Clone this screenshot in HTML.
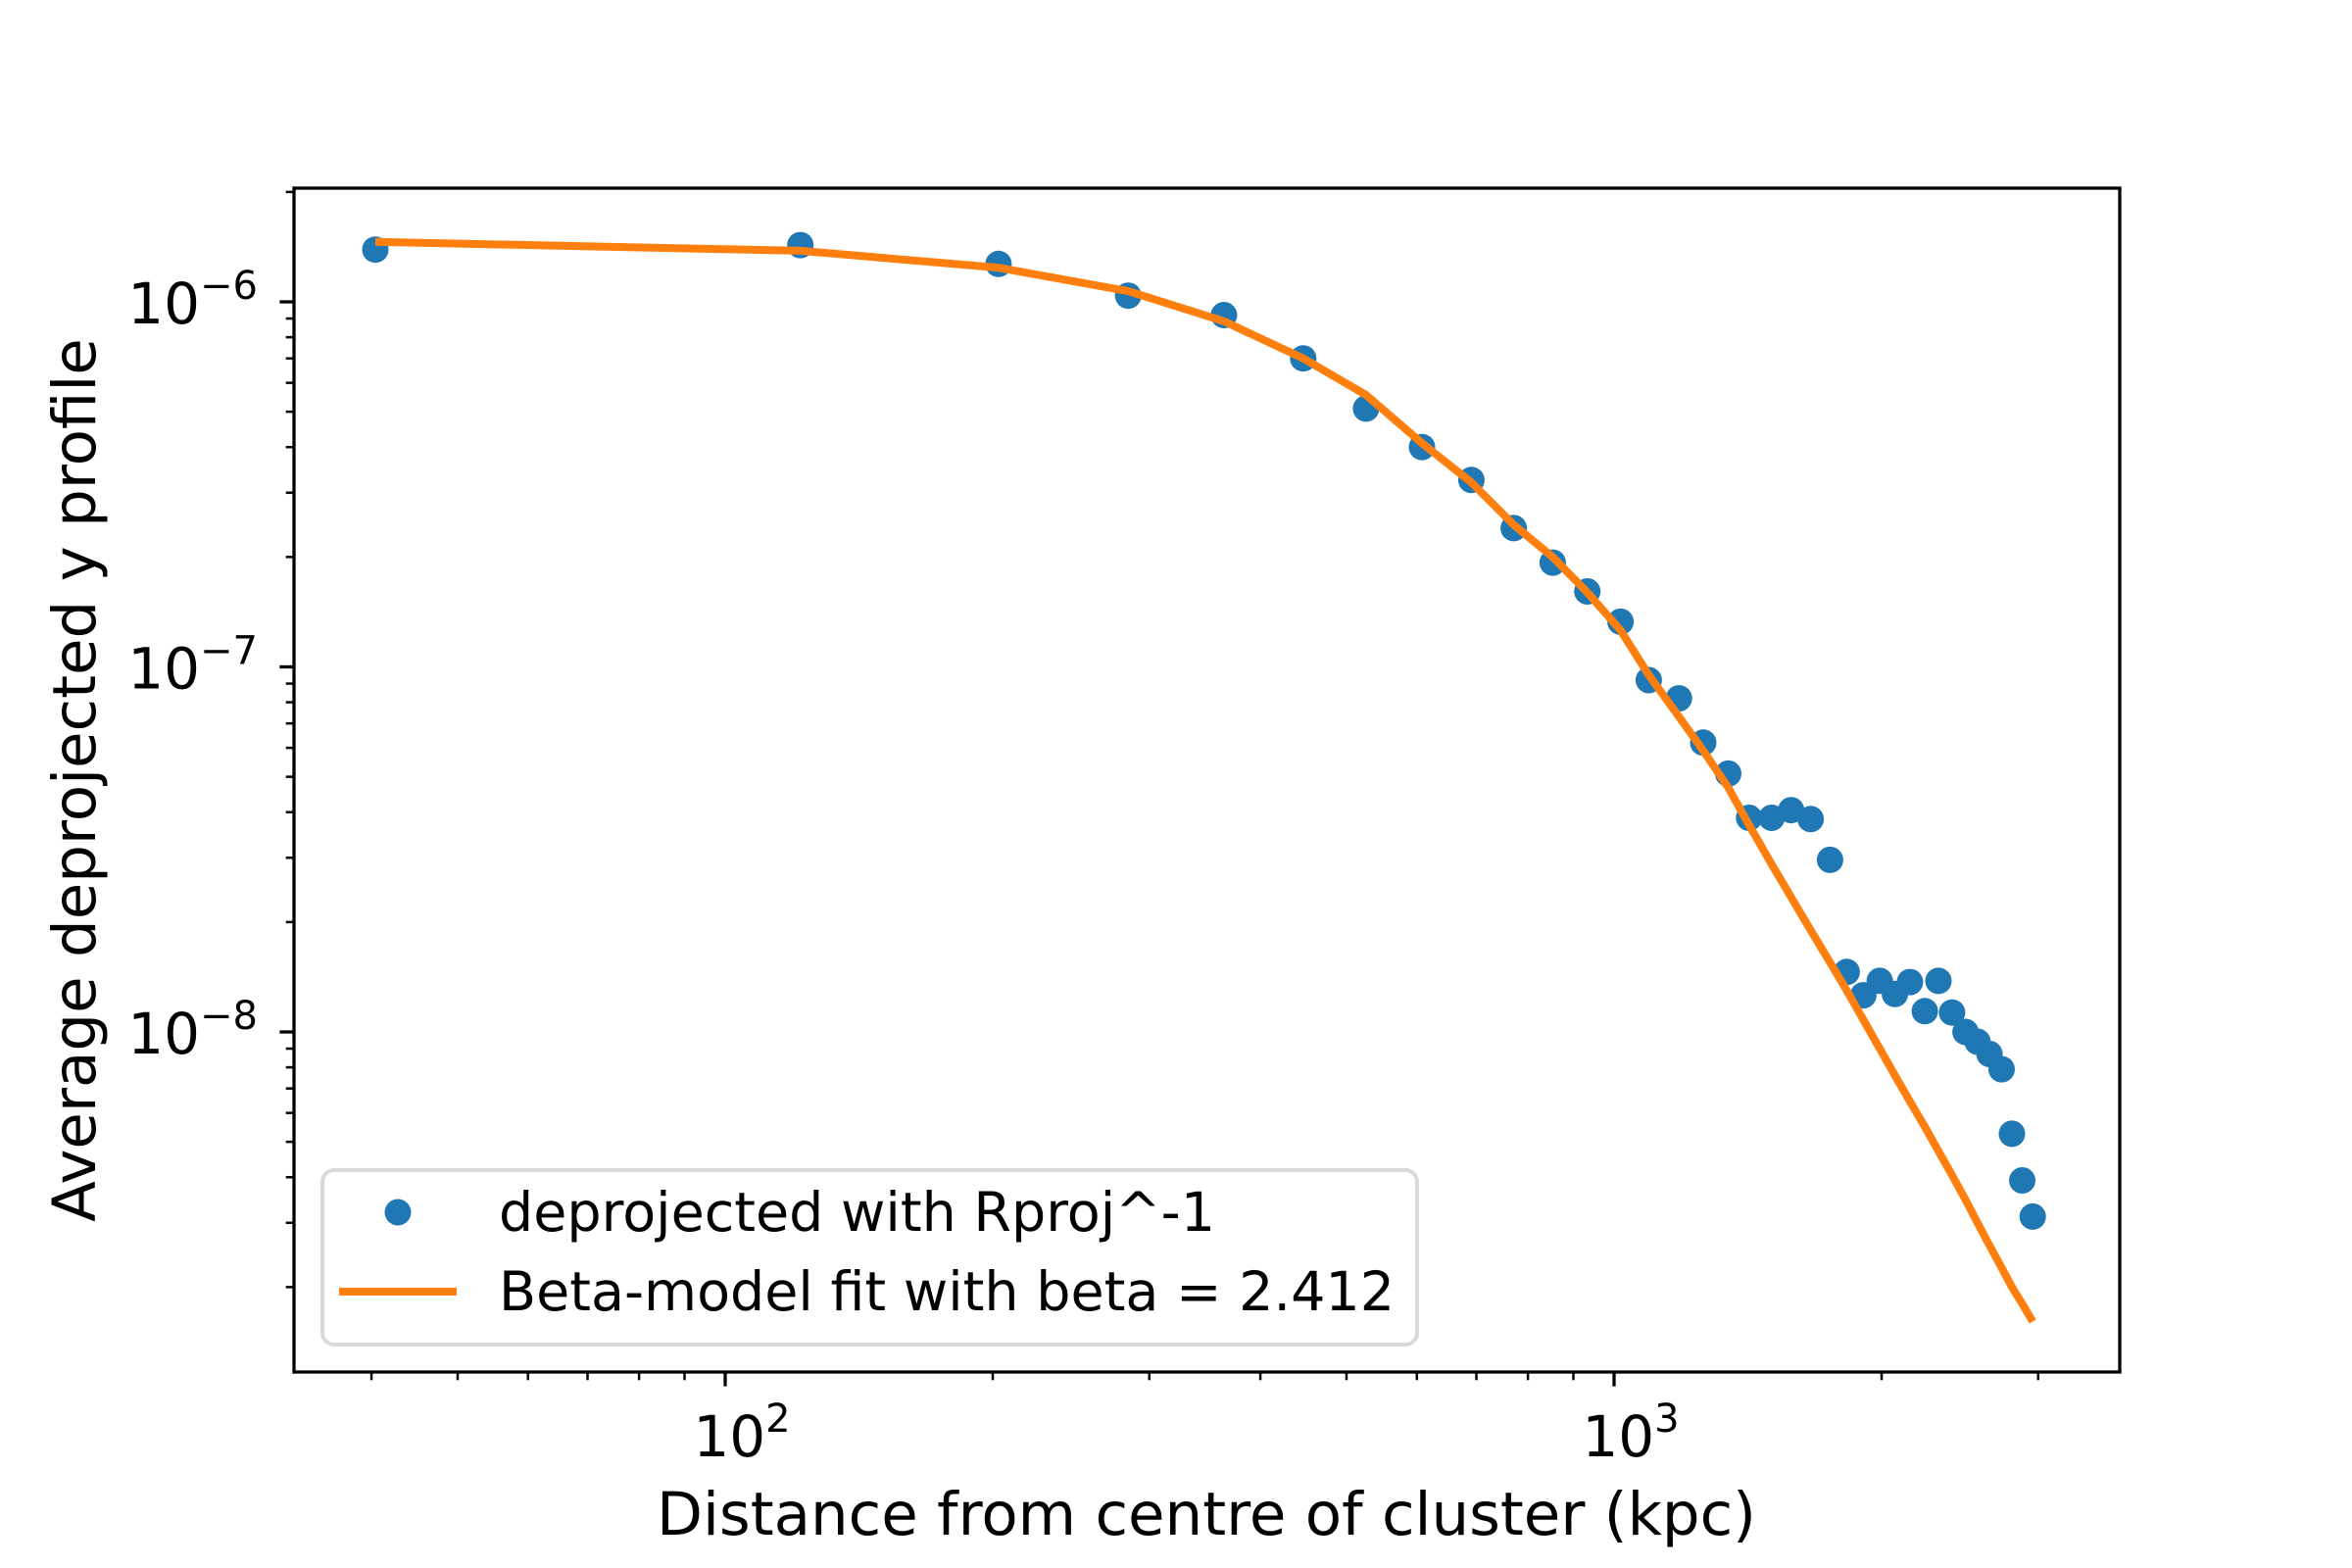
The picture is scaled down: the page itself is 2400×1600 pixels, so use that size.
<!DOCTYPE html>
<html><head><meta charset="utf-8"><style>
html,body{margin:0;padding:0;background:#fff;}
svg{display:block;}
text{font-family:"DejaVu Sans","Liberation Sans",sans-serif;fill:#000;}
</style></head><body>
<svg id="chart" width="2400" height="1600" viewBox="0 0 2400 1600" xmlns="http://www.w3.org/2000/svg">
<rect width="2400" height="1600" fill="#fff"/>
<g id="plot"></g>
<g id="axes"></g>
<g id="legend">
  <rect x="329" y="1194" width="1117" height="178" rx="12" fill="#fff" fill-opacity="0.8" stroke="#d9d9d9" stroke-width="4"/>
  <circle cx="406" cy="1237" r="13.5" fill="#1f77b4"/>
  <text x="509" y="1256" font-size="55.5">deprojected with Rproj^-1</text>
  <line x1="346" y1="1318" x2="466" y2="1318" stroke="#ff7f0e" stroke-width="8"/>
  <text x="509" y="1337" font-size="55.5">Beta-model fit with beta = 2.412</text>
</g>
<text x="1231" y="1566" font-size="61" text-anchor="middle">Distance from centre of cluster (kpc)</text>
<text transform="translate(97,796) rotate(-90)" font-size="61" text-anchor="middle">Average deprojected y profile</text>
</svg>
<script>
const radii = [40.4,121.5,203,284,364,447,526,608,691,771,853,933,1017,1094,1183,1260,1344,1419,1504,1582,1664,1750,1827,1907,1990,2070,2152,2237,2317,2400,2485,2564,2645,2729,2803,2879,2958];
const profile = [1.39e-6,1.43e-6,1.27e-6,1.04e-6,0.92e-6,0.70e-6,0.51e-6,0.40e-6,0.325e-6,0.24e-6,0.193e-6,0.161e-6,0.133e-6,9.2e-8,8.2e-8,6.2e-8,5.1e-8,3.86e-8,3.86e-8,4.05e-8,3.83e-8,2.96e-8,1.46e-8,1.26e-8,1.38e-8,1.27e-8,1.37e-8,1.14e-8,1.38e-8,1.13e-8,1.0e-8,0.94e-8,0.87e-8,0.79e-8,5.26e-9,3.92e-9,3.12e-9];
const fitRadii = [40.4,121.5,203,284,364,447,526,608,691,771,853,933,1017,1094,1183,1260,1344,1419,1504,1582,1664,1750,1827,1907,1990,2070,2152,2237,2317,2400,2485,2564,2645,2729,2803,2879,2958];
const fitValues = [1.46e-6,1.38e-6,1.24e-6,1.07e-6,0.885e-6,0.70e-6,0.556e-6,0.41e-6,0.32e-6,0.245e-6,0.20e-6,0.16e-6,0.126e-6,9.5e-8,7.3e-8,5.9e-8,4.67e-8,3.69e-8,2.88e-8,2.34e-8,1.9e-8,1.55e-8,1.30e-8,1.08e-8,9.0e-9,7.6e-9,6.45e-9,5.5e-9,4.72e-9,4.05e-9,3.47e-9,3.0e-9,2.6e-9,2.26e-9,2.0e-9,1.8e-9,1.61e-9];
const xMajorTicks = [100,1000];
const xMajorExp = ["2","3"];
const yMajorTicks = [1e-6,1e-7,1e-8];
const yMajorExp = ["\u22126","\u22127","\u22128"];

const NS="http://www.w3.org/2000/svg";
const L=300,R=2163,T=192,B=1400;
const xDec=907, x100=740;
const yDec=372.5, y1e6=308;
function xs(v){return x100+(Math.log10(v)-2)*xDec;}
function ys(v){return y1e6-(Math.log10(v)+6)*yDec;}
function mk(tag,attrs,parent){const e=document.createElementNS(NS,tag);for(const k in attrs)e.setAttribute(k,attrs[k]);parent.appendChild(e);return e;}
const plot=document.getElementById('plot');
const axes=document.getElementById('axes');

const pts=fitRadii.map((r,i)=>xs(r).toFixed(1)+','+ys(fitValues[i]).toFixed(1)).join(' ');
const pl=mk('polyline',{points:pts,fill:'none',stroke:'#ff7f0e','stroke-width':8,'stroke-linejoin':'round'},plot);


radii.forEach((r,i)=>{
  const c=mk('circle',{cx:xs(r).toFixed(1),cy:ys(profile[i]).toFixed(1),r:13.5,fill:'#1f77b4'},plot);
  
  
  plot.insertBefore(c,pl);
});

const fr=mk('rect',{x:L,y:T,width:R-L,height:B-T,fill:'none',stroke:'#000','stroke-width':3.3},axes);



const xMin=Math.pow(10,2-(x100-L)/xDec), xMax=Math.pow(10,2+(R-x100)/xDec);
for(let d=1;d<=4;d++){for(let m=2;m<=9;m++){const v=m*Math.pow(10,d);if(v<xMin||v>xMax)continue;const x=xs(v);
  const t=mk('line',{x1:x,y1:B,x2:x,y2:B+8.3,stroke:'#000','stroke-width':2.5},axes);
  
  }}
xMajorTicks.forEach((v,i)=>{const x=xs(v);
  const t=mk('line',{x1:x,y1:B,x2:x,y2:B+14.6,stroke:'#000','stroke-width':3.3},axes);
  
  
  const tx=mk('text',{x:x+17,y:1486,'font-size':58,'text-anchor':'middle'},axes);
  
  
  tx.appendChild(document.createTextNode('10'));
  const sp=mk('tspan',{dy:-25,'font-size':40},tx);sp.textContent=xMajorExp[i];
});
const yMin=Math.pow(10,-6-(B-y1e6)/yDec), yMax=Math.pow(10,-6+(y1e6-T)/yDec);
for(let d=-10;d<=-5;d++){for(let m=2;m<=9;m++){const v=m*Math.pow(10,d);if(v<yMin||v>yMax)continue;const y=ys(v);
  const t=mk('line',{x1:L,y1:y,x2:L-8.3,y2:y,stroke:'#000','stroke-width':2.5},axes);
  
  }}
yMajorTicks.forEach((v,i)=>{const y=ys(v);
  const t=mk('line',{x1:L,y1:y,x2:L-14.6,y2:y,stroke:'#000','stroke-width':3.3},axes);
  
  
  const tx=mk('text',{x:263,y:y+22,'font-size':58,'text-anchor':'end'},axes);
  
  
  tx.appendChild(document.createTextNode('10'));
  const sp=mk('tspan',{dy:-25,'font-size':40},tx);sp.textContent=yMajorExp[i];
});
</script>
</body></html>
